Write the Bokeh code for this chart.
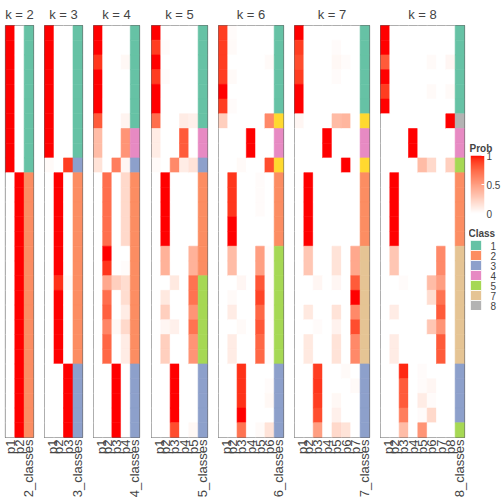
import numpy as np
from math import pi
from bokeh.plotting import figure
from bokeh.models import (FactorRange, Range1d, ColumnDataSource, LinearColorMapper,
                          CategoricalColorMapper, FixedTicker, Spacer)
from bokeh.layouts import row, column
from bokeh.embed import file_html
from bokeh.resources import INLINE

# ---------------- data (rows top -> bottom, 28 samples) ----------------
k2_p1 = [1,1,1,1,1,1,1,1,1,1, 0,0,0,0,0,0,0,0,0,0, 0,0,0,0,0,0,0,0]
k2_p2 = [0,0,0,0,0,0,0,0,0,0, 1,1,1,1,1,1,1,1,1,1, 1,1,1,1,1,1,1,1]
k2_cls = [1,1,1,1,1,1,1,1,1,1, 2,2,2,2,2,2,2,2,2,2, 2,2,2,2,2,2,2,2]

k3_p1 = [1,1,1,1,1,1,1,1,1,0.03, 0,0,0,0,0,0,0,0,0,0, 0,0,0,0,0,0,0,0]
k3_p2 = [0,0,0,0,0,0,0,0,0,0, 1,1,1,1,1,1,1,0.93,1,1, 1,1,1,0,0,0,0,0]
k3_p3 = [0,0,0,0,0,0,0,0,0,0.9, 0,0,0,0,0,0,0,0.03,0,0, 0,0,0,1,1,1,1,1]
k3_cls = [1,1,1,1,1,1,1,1,1,3, 2,2,2,2,2,2,2,2,2,2, 2,2,2,3,3,3,3,3]

k4_p1 = [1,1,0.92,1,1,1,0.8,0.35,0.35,0.15, 0,0,0,0,0,0,0,0,0,0, 0,0,0,0,0,0,0,0]
k4_p2 = [0,0,0,0,0,0,0,0,0,0, 0.72,0.72,0.72,0.72,0.72,1,0.92,0.45,0.72,0.78, 0.62,0.75,0.75,0,0,0,0,0]
k4_p3 = [0,0,0,0,0,0,0,0,0,0.65, 0,0,0,0,0,0,0,0.25,0,0, 0.04,0,0,1,1,1,1,1]
k4_p4 = [0,0,0.04,0,0,0,0.06,0.55,0.55,0.05, 0.2,0.2,0.2,0.2,0.2,0,0.02,0.18,0.18,0.1, 0.2,0.1,0.1,0,0,0,0,0]
k4_cls = [1,1,1,1,1,1,1,4,4,3, 2,2,2,2,2,2,2,2,2,2, 2,2,2,3,3,3,3,3]

k5_p1 = [1,0.9,1,0.9,1,1,0.72,0.1,0.1,0.03, 0,0,0,0,0,0,0,0,0,0, 0,0,0,0,0,0,0,0]
k5_p2 = [0,0.02,0,0.02,0,0,0,0,0,0, 1,1,1,1,1,0.4,0.4,0,0.12,0.25, 0.05,0.25,0.25,0,0,0,0,0]
k5_p3 = [0,0,0,0,0,0,0,0,0,0.6, 0,0,0,0,0,0,0,0.12,0,0, 0.08,0,0,1,1,1,1,0.85]
k5_p4 = [0,0,0,0,0,0,0.1,0.8,0.8,0.1, 0,0,0,0,0,0,0,0,0,0, 0,0,0,0,0,0,0,0]
k5_p5 = [0,0,0,0,0,0,0.08,0,0,0.15, 0,0,0,0,0,0.4,0.4,0.7,0.7,0.55, 0.7,0.55,0.55,0,0,0,0,0.04]
k5_cls = [1,1,1,1,1,1,1,4,4,3, 2,2,2,2,2,2,2,5,5,5, 5,5,5,3,3,3,3,3]

k6_p1 = [0.9,0.9,0.9,0.9,1,0.9,0.25,0,0,0, 0,0,0,0,0,0,0,0,0,0, 0,0,0,0,0,0,0,0]
k6_p2 = [0.02,0.03,0,0.03,0,0.02,0,0,0,0, 0.92,0.92,0.92,1,1,0.35,0.35,0,0.03,0.1, 0,0.1,0.1,0,0,0,0,0]
k6_p3 = [0,0,0,0,0,0,0,0,0,0.03, 0,0,0,0,0,0,0,0.05,0,0, 0.03,0,0,0.93,0.93,0.93,1,0.7]
k6_p4 = [0,0,0,0,0,0,0,1,1,0, 0,0,0,0,0,0,0,0,0,0, 0,0,0,0,0,0,0,0]
k6_p5 = [0,0,0,0,0,0,0,0,0,0, 0.02,0.02,0.02,0,0,0.5,0.5,0.82,0.88,0.75, 0.82,0.75,0.75,0,0,0,0,0.03]
k6_p6 = [0,0,0.03,0,0,0,0.6,0,0,0.85, 0,0,0,0,0,0.02,0.02,0.02,0.02,0.02, 0.02,0.02,0.02,0,0.02,0.04,0,0.15]
k6_cls = [1,1,1,1,1,1,6,4,4,6, 2,2,2,2,2,5,5,5,5,5, 5,5,5,3,3,3,3,3]

k7_p1 = [1,0.9,0.85,0.9,1,1,0.05,0,0,0, 0,0,0,0,0,0,0,0,0,0, 0,0,0,0,0,0,0,0]
k7_p2 = [0,0,0,0,0,0,0,0,0,0, 1,1,1,1,1,0.3,0.3,0,0,0.12, 0,0.12,0.12,0,0,0,0,0]
k7_p3 = [0,0,0,0,0,0,0,0,0,0, 0,0,0,0,0,0,0,0.05,0,0, 0.02,0,0,0.9,0.92,0.9,0.85,0.5]
k7_p4 = [0,0,0,0,0,0,0,1,1,0, 0,0,0,0,0,0,0,0,0,0, 0,0,0,0,0,0,0,0]
k7_p5 = [0,0.02,0.04,0.02,0,0,0.35,0,0,0, 0,0,0,0,0,0.15,0.15,0.05,0,0.15, 0.07,0.15,0.15,0,0,0.04,0.08,0.2]
k7_p6 = [0,0,0.02,0,0,0,0.38,0,0,1, 0,0,0,0,0,0,0,0,0,0, 0,0,0,0.03,0,0,0,0.15]
k7_p7 = [0,0,0,0,0,0,0,0,0,0, 0,0,0,0,0,0.45,0.45,0.8,1,0.6, 0.85,0.6,0.6,0,0.03,0,0,0]
k7_cls = [1,1,1,1,1,1,6,4,4,6, 2,2,2,2,2,7,7,7,7,7, 7,7,7,3,3,3,3,3]

k8_p1 = [1,1,0.8,1,0.9,1,0,0,0,0, 0,0,0,0,0,0,0,0,0,0, 0,0,0,0,0,0,0,0]
k8_p2 = [0,0,0,0,0,0,0,0,0,0, 1,1,1,1,1,0.3,0.3,0,0,0.1, 0,0.1,0.1,0,0,0,0,0]
k8_p3 = [0,0,0,0,0,0,0,0,0,0, 0,0,0,0,0,0,0,0.02,0,0, 0,0,0,0.95,0.8,0.8,0.65,0.35]
k8_p4 = [0,0,0,0,0,0,0,1,1,0, 0,0,0,0,0,0,0,0,0,0, 0,0,0,0,0,0,0,0]
k8_p5 = [0,0,0,0,0,0,0,0,0,0.35, 0,0,0,0,0,0,0,0,0,0, 0,0,0,0.02,0.02,0.1,0.02,0.55]
k8_p6 = [0,0,0.03,0,0.03,0,0,0,0,0.2, 0,0,0,0,0,0,0,0.35,0.18,0, 0.3,0,0,0,0.05,0.02,0.2,0]
k8_p7 = [0,0,0,0,0,0,0,0,0,0, 0,0,0,0,0,0.6,0.6,0.5,0.7,0.8, 0.55,0.8,0.8,0,0,0,0,0]
k8_p8 = [0,0,0.05,0,0.03,0,1,0,0,0.25, 0,0,0,0,0,0,0,0,0,0, 0,0,0,0,0,0,0,0]
k8_cls = [1,1,1,1,1,1,8,4,4,5, 2,2,2,2,2,7,7,7,7,7, 7,7,7,3,3,3,3,5]

class_ids = ["1", "2", "3", "4", "5", "6", "7", "8"]
class_colors = ["#66C2A5", "#FC8D62", "#8DA0CB", "#E78AC3", "#A6D854", "#FFD92F", "#E5C494", "#B3B3B3"]
legend_classes = ["1", "2", "3", "4", "5", "7", "8"]
prob_ticks = [0, 0.5, 1]

panels = [
    (2, [k2_p1, k2_p2], k2_cls),
    (3, [k3_p1, k3_p2, k3_p3], k3_cls),
    (4, [k4_p1, k4_p2, k4_p3, k4_p4], k4_cls),
    (5, [k5_p1, k5_p2, k5_p3, k5_p4, k5_p5], k5_cls),
    (6, [k6_p1, k6_p2, k6_p3, k6_p4, k6_p5, k6_p6], k6_cls),
    (7, [k7_p1, k7_p2, k7_p3, k7_p4, k7_p5, k7_p6, k7_p7], k7_cls),
    (8, [k8_p1, k8_p2, k8_p3, k8_p4, k8_p5, k8_p6, k8_p7, k8_p8], k8_cls),
]

# ---------------- white -> red palette interpolated in CIE Lab ----------------
def _lin(c):
    c = c / 255.0
    return np.where(c <= 0.04045, c / 12.92, ((c + 0.055) / 1.055) ** 2.4)

def _gam(c):
    c = np.clip(c, 0, 1)
    return np.where(c <= 0.0031308, 12.92 * c, 1.055 * c ** (1 / 2.4) - 0.055) * 255

M = np.array([[0.4124, 0.3576, 0.1805], [0.2126, 0.7152, 0.0722], [0.0193, 0.1192, 0.9505]])
WP = np.array([0.95047, 1.0, 1.08883])

def to_lab(rgb):
    xyz = M @ _lin(np.array(rgb, float)) / WP
    f = np.where(xyz > 0.008856, np.cbrt(xyz), 7.787 * xyz + 16 / 116)
    return np.array([116 * f[1] - 16, 500 * (f[0] - f[1]), 200 * (f[1] - f[2])])

def from_lab(lab):
    fy = (lab[0] + 16) / 116
    fx = fy + lab[1] / 500
    fz = fy - lab[2] / 200
    f = np.array([fx, fy, fz])
    xyz = np.where(f ** 3 > 0.008856, f ** 3, (f - 16 / 116) / 7.787) * WP
    rgb = _gam(np.linalg.inv(M) @ xyz)
    return "#%02x%02x%02x" % tuple(int(round(v)) for v in rgb)

lab_w, lab_r = to_lab([255, 255, 255]), to_lab([255, 0, 0])
palette = [from_lab(lab_w + (lab_r - lab_w) * t) for t in np.linspace(0, 1, 256)]

prob_mapper = LinearColorMapper(palette=palette, low=0, high=1)
class_mapper = CategoricalColorMapper(factors=class_ids, palette=class_colors)

FONT = "Liberation Sans"
N = 28
FRAME_H = 412
frame_widths = [28, 38, 46, 56, 65, 75, 84]
gaps = [11, 11, 12, 11, 11, 11, 5]

figs = []
for idx, ((k, probs, cls), fw, gap) in enumerate(zip(panels, frame_widths, gaps)):
    cols = [f"p{i+1}" for i in range(k)] + [f"{k}_classes"]
    xs, ys, vs = [], [], []
    for j, col in enumerate(probs):
        for i, v in enumerate(col):
            xs.append(cols[j]); ys.append(i + 0.5); vs.append(v)
    src = ColumnDataSource(dict(x=xs, y=ys, v=vs))
    csrc = ColumnDataSource(dict(x=[cols[-1]] * N, y=[i + 0.5 for i in range(N)],
                                 c=[str(c) for c in cls]))
    p = figure(x_range=FactorRange(*cols), y_range=Range1d(N, 0),
               frame_width=fw, frame_height=FRAME_H, output_backend="svg",
               toolbar_location=None, y_axis_location=None,
               min_border_left=5 if idx == 0 else 0, min_border_right=gap,
               min_border_top=24, min_border_bottom=0,
               title=f"k = {k}")
    pc = {"field": "v", "transform": prob_mapper}
    cc = {"field": "c", "transform": class_mapper}
    p.rect(x="x", y="y", width=1, height=1, source=src,
           fill_color=pc, line_color=pc, line_width=0.6)
    p.rect(x="x", y="y", width=1, height=1, source=csrc,
           fill_color=cc, line_color=cc, line_width=0.6)
    p.grid.visible = False
    p.outline_line_color = "#666666"
    p.outline_line_width = 1.2
    p.title.align = "center"
    p.title.text_font = FONT
    p.title.text_font_size = "13px"
    p.title.text_font_style = "normal"
    p.title.standoff = 8
    ax = p.xaxis[0]
    ax.major_label_orientation = pi / 2
    ax.major_label_text_font = FONT
    ax.major_label_text_font_size = "13px"
    ax.major_label_standoff = 2
    ax.major_tick_line_color = None
    ax.axis_line_color = None
    ax.major_tick_out = 0
    ax.major_tick_in = 0
    figs.append(p)

# ---------------- legends ----------------
grad = np.linspace(0, 1, 120).reshape(-1, 1)
fp = figure(x_range=Range1d(0, 1), y_range=Range1d(0, 1), frame_width=14, frame_height=58,
            output_backend="svg", toolbar_location=None, x_axis_location=None,
            y_axis_location="right", min_border_left=0, min_border_right=0,
            min_border_top=16, min_border_bottom=8, title="Prob")
fp.image(image=[grad], x=0, y=0, dw=1, dh=1, color_mapper=prob_mapper)
fp.grid.visible = False
fp.outline_line_color = None
fp.title.text_font = FONT
fp.title.text_font_size = "10px"
fp.title.text_font_style = "bold"
fp.title.standoff = 4
fp.title.offset = -1
fy = fp.yaxis[0]
fy.ticker = FixedTicker(ticks=prob_ticks)
fy.axis_line_color = None
fy.major_tick_line_color = "white"
fy.major_tick_in = 3
fy.major_tick_out = 0
fy.minor_tick_line_color = None
fy.major_label_text_font = FONT
fy.major_label_text_font_size = "10px"
fy.major_label_standoff = 2

fc = figure(x_range=Range1d(0, 1), y_range=FactorRange(*legend_classes[::-1]),
            frame_width=11, frame_height=70, output_backend="svg", toolbar_location=None,
            x_axis_location=None, y_axis_location="right", min_border_left=1,
            min_border_right=0, min_border_top=16, min_border_bottom=0, title="Class")
fc.rect(x=0.5, y=legend_classes, width=1, height=1,
        fill_color={"field": "y", "transform": class_mapper}, line_color="white", line_width=0.8)
fc.grid.visible = False
fc.outline_line_color = None
fc.title.text_font = FONT
fc.title.text_font_size = "10px"
fc.title.text_font_style = "bold"
fc.title.standoff = 4
fc.title.offset = -2
cy = fc.yaxis[0]
cy.axis_line_color = None
cy.major_tick_line_color = None
cy.major_label_text_font = FONT
cy.major_label_text_font_size = "10px"
cy.major_label_standoff = 3

legend_col = column(Spacer(height=138), fp, Spacer(height=2), fc)
layout = row(*figs, legend_col)
open("out.html", "w").write(file_html(layout, INLINE))
